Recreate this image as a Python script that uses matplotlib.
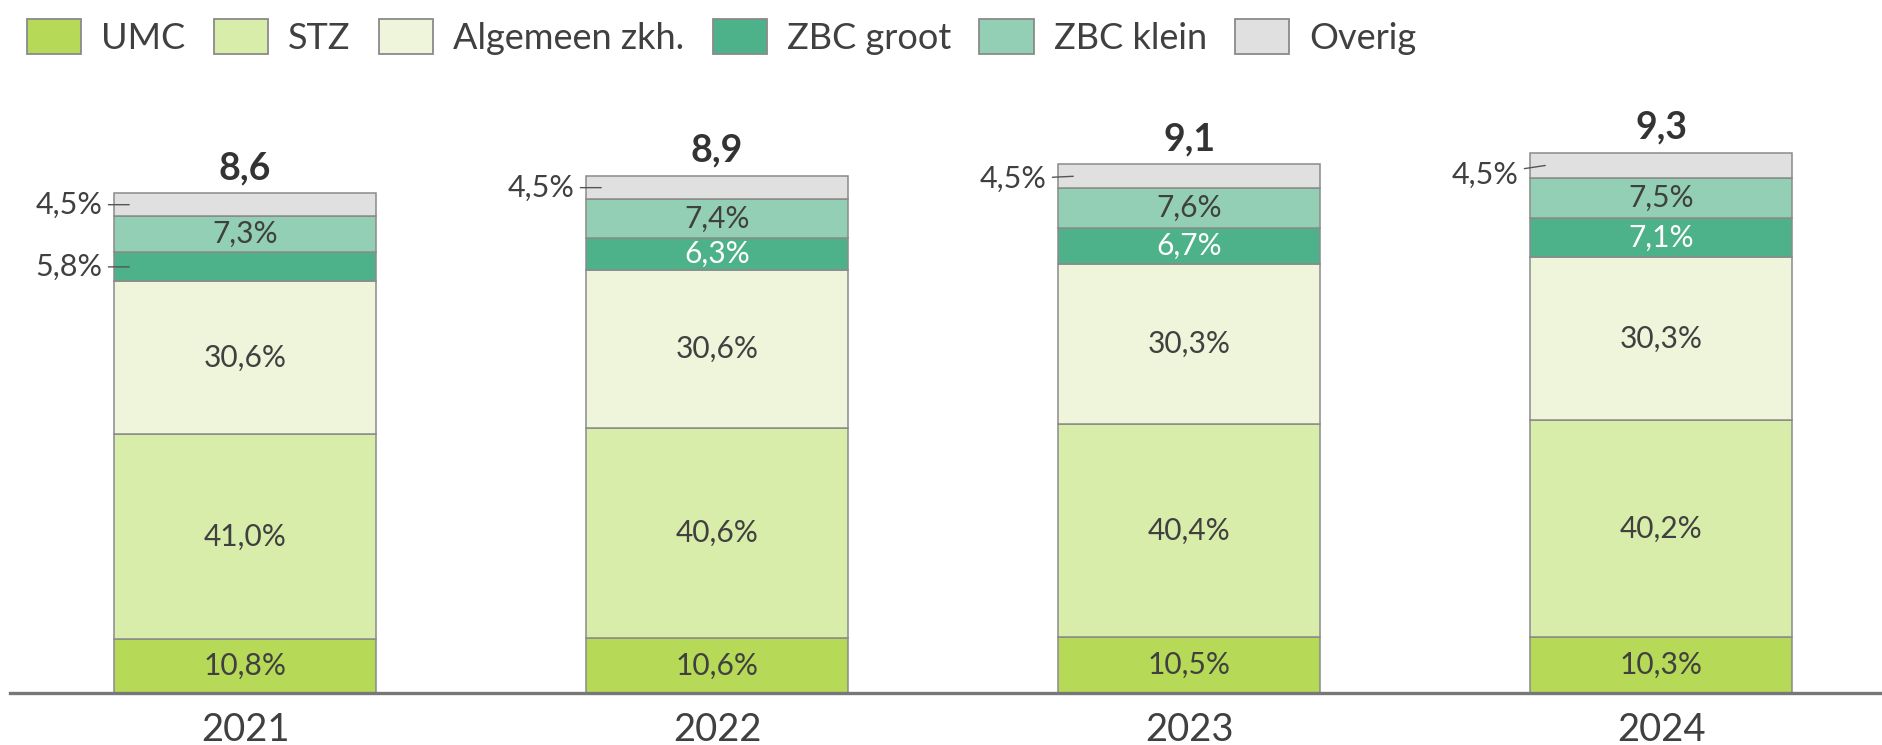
import matplotlib.pyplot as plt
from matplotlib.patches import Patch

plt.rcParams["font.family"] = ["Lato", "DejaVu Sans"]

years = ["2021", "2022", "2023", "2024"]
totals = [8.6, 8.9, 9.1, 9.3]
categories = ["UMC", "STZ", "Algemeen zkh.", "ZBC groot", "ZBC klein", "Overig"]
umc = [10.8, 10.6, 10.5, 10.3]
stz = [41.0, 40.6, 40.4, 40.2]
algemeen = [30.6, 30.6, 30.3, 30.3]
zbc_groot = [5.8, 6.3, 6.7, 7.1]
zbc_klein = [7.3, 7.4, 7.6, 7.5]
overig = [4.5, 4.5, 4.5, 4.5]

shares = [umc, stz, algemeen, zbc_groot, zbc_klein, overig]
colors = ["#b6d957", "#d9edab", "#eef5da", "#4db28a", "#93cfb4", "#e0e0e0"]
label_colors = ["#404040", "#404040", "#404040", "white", "#404040", "#404040"]
# vertical nudge (points) of the outside labels, per year
outside_dy = [0, 0, -2, -6.5]

TEXT = "#404040"
EDGE = "#8a8a8a"
BAR_WIDTH = 0.555
MIN_INSIDE = 0.52  # segments smaller than this get an outside label


def fmt_pct(v):
    return ("%.1f" % v).replace(".", ",") + "%"


fig = plt.figure(figsize=(18.83, 7.45), dpi=100)
ax = fig.add_axes([10 / 1883, 52 / 745, 1 - 10 / 1883, 1 - 52 / 745 - 0.085])
ax.set_xlim(-0.498, 3.47)
ax.set_ylim(0, 10.84)

xs = list(range(len(years)))
bottoms = [0.0] * len(years)
for ci, series in enumerate(shares):
    heights = [t * p / 100 for t, p in zip(totals, series)]
    ax.bar(xs, heights, BAR_WIDTH, bottom=bottoms, color=colors[ci],
           edgecolor=EDGE, linewidth=1.1, zorder=2)
    for i, x in enumerate(xs):
        h = heights[i]
        yc = bottoms[i] + h / 2
        if h >= MIN_INSIDE:
            ax.text(x, yc, fmt_pct(series[i]), ha="center", va="center",
                    fontsize=21.5, color=label_colors[ci], zorder=3)
        else:
            left = x - BAR_WIDTH / 2
            ax.annotate(fmt_pct(series[i]), xy=(left + 0.032, yc),
                        xytext=(-19, outside_dy[i]), textcoords="offset points",
                        ha="right", va="center", fontsize=22, color=TEXT,
                        arrowprops=dict(arrowstyle="-", color="#555555", lw=1.0,
                                        shrinkA=2, shrinkB=0),
                        zorder=4, annotation_clip=False)
    bottoms = [b + h for b, h in zip(bottoms, heights)]

for x, t in zip(xs, totals):
    ax.annotate(("%.1f" % t).replace(".", ","), xy=(x, t), xytext=(0, 6),
                textcoords="offset points", ha="center", va="bottom",
                fontsize=27, fontweight="bold", color="#333333",
                annotation_clip=False)

for s in ["top", "right", "left"]:
    ax.spines[s].set_visible(False)
ax.spines["bottom"].set_color("#777777")
ax.spines["bottom"].set_linewidth(2.4)
ax.spines["bottom"].set_zorder(5)
ax.set_yticks([])
ax.set_xticks(xs)
ax.set_xticklabels(years, fontsize=27.5, color=TEXT)
ax.tick_params(axis="x", length=0, pad=14)

handles = [Patch(facecolor=c, edgecolor=EDGE, linewidth=1.3) for c in colors]
fig.legend(handles, categories, loc="upper left",
           bbox_to_anchor=(27 / 1883, 1 - 19 / 745),
           ncol=6, frameon=False, fontsize=26, labelcolor=TEXT,
           handlelength=1.5, handleheight=1.13, handletextpad=0.56,
           columnspacing=0.78, borderaxespad=0, borderpad=0)

fig.savefig("out.png", dpi=100)
